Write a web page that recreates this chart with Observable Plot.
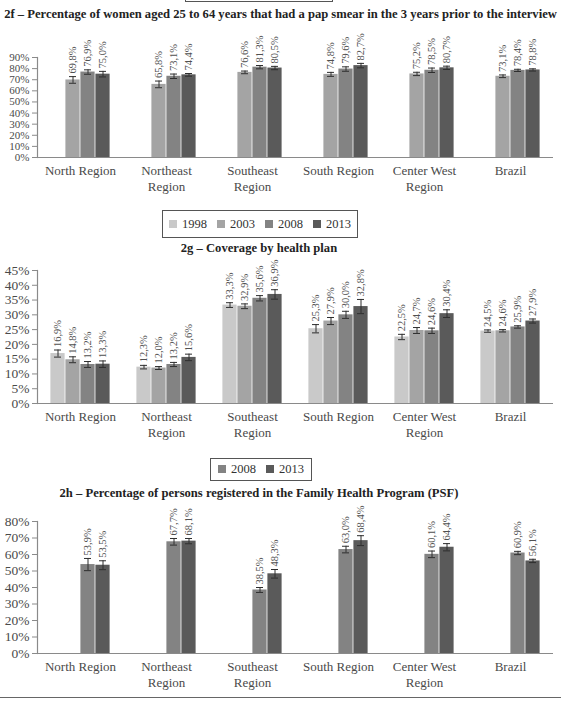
<!DOCTYPE html>
<html>
<head>
<meta charset="utf-8">
<script src="https://cdn.jsdelivr.net/npm/d3@7"></script>
<script src="https://cdn.jsdelivr.net/npm/@observablehq/plot@0.6"></script>
<style>
  html, body { margin: 0; padding: 0; background: #fff; }
  #page { position: relative; width: 561px; height: 702px; overflow: hidden; font-family: "Liberation Serif", serif; }
  .block { position: absolute; left: 0; }
  .title { position: absolute; font-weight: bold; font-size: 12.6px; color: #222; text-align: center; white-space: nowrap; z-index: 2; }
  .legend { position: absolute; border: 1px solid #555; box-sizing: border-box; display: flex; align-items: center; justify-content: center; gap: 10px; font-size: 12.5px; color: #333; background: #fff; z-index: 2; }
  .legend span.sw { display: inline-block; width: 8px; height: 8px; margin-right: 5px; vertical-align: 0px; }
  .rule { position: absolute; left: 0; width: 561px; top: 697px; border-top: 1.6px solid #666; }
</style>
</head>
<body>
<div id="page"></div>
<script>
// Regions on the category axis and their (wrapped) tick labels
const regions = ["North Region", "Northeast Region", "Southeast Region", "South Region", "Center West Region", "Brazil"];
const regionLabels = ["North Region", "Northeast\nRegion", "Southeast\nRegion", "South Region", "Center West\nRegion", "Brazil"];

// Survey years and their grey shades
const years = ["1998", "2003", "2008", "2013"];
const yearColors = ["#c9c9c9", "#a4a4a4", "#838383", "#5a5a5a"];

// 2f – Pap smear in the last 3 years (%), by region: 2003, 2008, 2013
const papYears = ["2003", "2008", "2013"];
const papValues = [
  [69.8, 76.9, 75.0],
  [65.8, 73.1, 74.4],
  [76.6, 81.3, 80.5],
  [74.8, 79.6, 82.7],
  [75.2, 78.5, 80.7],
  [73.1, 78.4, 78.8]
];
const papErrors = [
  [3.0, 2.0, 2.5],
  [3.0, 2.0, 1.2],
  [1.2, 1.5, 1.5],
  [1.8, 2.0, 2.0],
  [1.5, 2.0, 1.5],
  [1.2, 1.0, 1.0]
];

// 2g – Coverage by health plan (%), by region: 1998, 2003, 2008, 2013
const planYears = ["1998", "2003", "2008", "2013"];
const planValues = [
  [16.9, 14.8, 13.2, 13.3],
  [12.3, 12.0, 13.2, 15.6],
  [33.3, 32.9, 35.6, 36.9],
  [25.3, 27.9, 30.0, 32.8],
  [22.5, 24.7, 24.6, 30.4],
  [24.5, 24.6, 25.9, 27.9]
];
const planErrors = [
  [1.2, 1.0, 1.0, 1.1],
  [0.6, 0.5, 0.7, 1.1],
  [0.8, 0.8, 0.9, 1.6],
  [1.4, 1.2, 1.2, 2.4],
  [0.9, 1.0, 0.9, 1.3],
  [0.4, 0.4, 0.4, 0.7]
];

// 2h – Registered in the Family Health Program (%), by region: 2008, 2013
const psfYears = ["2008", "2013"];
const psfValues = [
  [53.9, 53.5],
  [67.7, 68.1],
  [38.5, 48.3],
  [63.0, 68.4],
  [60.1, 64.4],
  [60.9, 56.1]
];
const psfErrors = [
  [3.7, 2.7],
  [2.0, 1.6],
  [1.5, 2.6],
  [2.0, 3.0],
  [2.0, 2.2],
  [1.0, 1.0]
];

const page = document.getElementById("page");
const textColor = "#4a4a4a";
const axisColor = "#8a8a8a";
const labelOf = new Map(regions.map((r, i) => [r, regionLabels[i]]));
const pct = v => v.toFixed(1).replace(".", ",") + "%";

function rowsFrom(seriesYears, values, errors) {
  const rows = [];
  regions.forEach((region, i) => {
    seriesYears.forEach((year, j) => {
      rows.push({region, year, value: values[i][j], err: errors[i][j]});
    });
  });
  return rows;
}

function addBox(left, top, width, height) {
  const box = document.createElement("div");
  box.className = "legend";
  Object.assign(box.style, {left: left + "px", top: top + "px", width: width + "px", height: height + "px"});
  page.appendChild(box);
  return box;
}

function addLegend(seriesYears, left, top, width, height) {
  const box = addBox(left, top, width, height);
  for (const y of seriesYears) {
    const item = document.createElement("span");
    const sw = document.createElement("span");
    sw.className = "sw";
    sw.style.background = yearColors[years.indexOf(y)];
    item.appendChild(sw);
    item.appendChild(document.createTextNode(y));
    box.appendChild(item);
  }
}

function addTitle(text, left, width, top) {
  const t = document.createElement("div");
  t.className = "title";
  t.textContent = text;
  Object.assign(t.style, {left: left + "px", width: width + "px", top: top + "px"});
  page.appendChild(t);
}

function addPanel({rows, yMax, step, top, marginTop, plotHeight, tickFont}) {
  const marginBottom = 42;
  const chart = Plot.plot({
    width: 561,
    height: marginTop + plotHeight + marginBottom,
    marginTop,
    marginBottom,
    marginLeft: 36,
    marginRight: 8,
    style: {background: "transparent", overflow: "visible", fontFamily: "Liberation Serif, serif", color: textColor},
    fx: {domain: regions, padding: 0, label: null},
    x: {domain: years, paddingInner: 0, paddingOuter: 0.78, axis: null},
    y: {domain: [0, yMax], label: null},
    color: {domain: years, range: yearColors},
    marks: [
      Plot.barY(rows, {fx: "region", x: "year", y: "value", fill: "year", insetLeft: 0.4, insetRight: 0.4}),
      Plot.ruleX(rows, {fx: "region", x: "year", y1: d => d.value - d.err, y2: d => d.value + d.err, stroke: "#2e2e2e", strokeWidth: 1}),
      Plot.tickY(rows, {fx: "region", x: "year", y: d => d.value + d.err, stroke: "#2e2e2e", strokeWidth: 1, insetLeft: 4, insetRight: 4}),
      Plot.tickY(rows, {fx: "region", x: "year", y: d => d.value - d.err, stroke: "#2e2e2e", strokeWidth: 1, insetLeft: 4, insetRight: 4}),
      Plot.text(rows, {fx: "region", x: "year", y: d => d.value + d.err, text: d => pct(d.value), rotate: -90, textAnchor: "start", dy: -3, fontSize: 10.5, fill: "#505050"}),
      Plot.ruleY([0], {stroke: axisColor, strokeWidth: 1.2}),
      Plot.frame({anchor: "left", facetAnchor: "left", stroke: axisColor, strokeWidth: 1.2}),
      Plot.axisY({ticks: d3.range(0, yMax + step / 2, step), tickFormat: d => d + "%", tickSize: 5, tickPadding: 3, fontSize: tickFont, stroke: axisColor, fill: textColor, label: null}),
      Plot.axisFx({anchor: "bottom", tickSize: 0, tickPadding: 6, fontSize: 13, lineHeight: 1.25, tickFormat: r => labelOf.get(r), fill: textColor, label: null})
    ]
  });
  const holder = document.createElement("div");
  holder.className = "block";
  holder.style.top = top + "px";
  holder.appendChild(chart);
  page.appendChild(holder);
}

// 2f (its key sits above the top edge; only the box's lower border shows)
addBox(185, -26, 148, 28);
addTitle("2f – Percentage of women aged 25 to 64 years that had a pap smear in the 3 years prior to the interview", 0, 561, 7);
addPanel({rows: rowsFrom(papYears, papValues, papErrors), yMax: 90, step: 10, top: 24, marginTop: 33, plotHeight: 100, tickFont: 11});

// 2g
addLegend(planYears, 162, 210, 196, 28);
addTitle("2g – Coverage by health plan", 0, 518, 241);
addPanel({rows: rowsFrom(planYears, planValues, planErrors), yMax: 45, step: 5, top: 250, marginTop: 20, plotHeight: 133, tickFont: 13.5});

// 2h
addLegend(psfYears, 210, 458, 102, 23);
addTitle("2h – Percentage of persons registered in the Family Health Program (PSF)", 0, 518, 486);
addPanel({rows: rowsFrom(psfYears, psfValues, psfErrors), yMax: 80, step: 10, top: 500, marginTop: 21, plotHeight: 132, tickFont: 13.5});

const rule = document.createElement("div");
rule.className = "rule";
page.appendChild(rule);
</script>
</body>
</html>
